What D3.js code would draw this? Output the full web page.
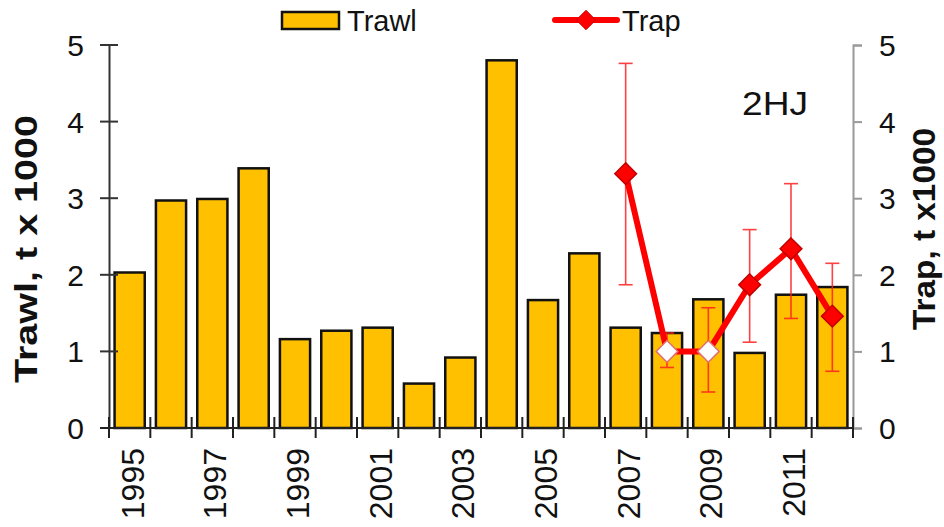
<!DOCTYPE html>
<html>
<head>
<meta charset="utf-8">
<script src="https://cdn.jsdelivr.net/npm/d3@7"></script>
<style>
body { margin: 0; background: white; }
text { font-family: "Liberation Sans", Arial, sans-serif; fill: #111; }
</style>
</head>
<body>
<div id="chart"></div>
<script>
// -- data
var years = [1995, 1996, 1997, 1998, 1999, 2000, 2001, 2002, 2003,
	2004, 2005, 2006, 2007, 2008, 2009, 2010, 2011, 2012];
var trawl = [2.03, 2.97, 2.99, 3.39, 1.16, 1.27, 1.31, 0.58, 0.92,
	4.80, 1.67, 2.28, 1.31, 1.24, 1.68, 0.98, 1.74, 1.84];

var trapYears = [2007, 2008, 2009, 2010, 2011, 2012];
var trap = [3.32, 1.0, 1.0, 1.87, 2.34, 1.46];
var trapHigh = [4.76, 1.24, 1.57, 2.59, 3.19, 2.15];
var trapLow = [1.87, 0.79, 0.47, 1.12, 1.43, 0.74];
var trapHollow = [false, true, true, false, false, false];

var yTicks = [0, 1, 2, 3, 4, 5];
var xLabels = [1995, 1997, 1999, 2001, 2003, 2005, 2007, 2009, 2011];

// -- setup
var W = 944, H = 527;
var plotL = 109, plotR = 853, plotT = 45, plotB = 428;

var svg = d3.select("#chart").append("svg")
	.attr("width", W)
	.attr("height", H);

var x = d3.scaleBand()
	.domain(years)
	.range([plotL, plotR])
	.paddingInner(0.27)
	.paddingOuter(0.135);
var step = x.step();
var cx = d => x(d) + x.bandwidth() / 2;

var y = d3.scaleLinear().domain([0, 5]).range([plotB, plotT]);
var y2 = d3.scaleLinear().domain([0, 5]).range([plotB, plotT]);

// bars
svg.append("g").selectAll("rect")
	.data(years)
	.enter()
	.append("rect")
	.attr("x", d => x(d))
	.attr("width", x.bandwidth())
	.attr("y", (d, i) => y(trawl[i]))
	.attr("height", (d, i) => y(0) - y(trawl[i]))
	.attr("fill", "#FFC000")
	.attr("stroke", "#111")
	.attr("stroke-width", 2.5);

// left axis
var la = svg.append("g").attr("transform", "translate(" + plotL + ",0)");
la.call(d3.axisLeft(y).tickValues(yTicks).tickSize(0).tickFormat(""));
la.select(".domain").attr("stroke", "#333").attr("stroke-width", 2);
la.selectAll(".tk").data(yTicks).enter().append("line")
	.attr("x1", -9).attr("x2", 9)
	.attr("y1", d => y(d)).attr("y2", d => y(d))
	.attr("stroke", "#333").attr("stroke-width", 2);
la.selectAll(".lbl").data(yTicks).enter().append("text")
	.attr("x", -25).attr("y", d => y(d) + 11)
	.attr("text-anchor", "end")
	.style("font-size", "30px")
	.text(d => d);

// right axis
var ra = svg.append("g").attr("transform", "translate(" + plotR + ",0)");
ra.call(d3.axisRight(y2).tickValues(yTicks).tickSize(9).tickFormat(""));
ra.selectAll(".domain, .tick line").attr("stroke", "#999").attr("stroke-width", 2);
ra.selectAll(".lbl").data(yTicks).enter().append("text")
	.attr("x", 26).attr("y", d => y2(d) + 11)
	.style("font-size", "30px")
	.text(d => d);

// x axis
var xa = svg.append("g");
xa.append("line")
	.attr("x1", plotL - 9).attr("x2", plotR)
	.attr("y1", plotB).attr("y2", plotB)
	.attr("stroke", "#222").attr("stroke-width", 2);
xa.selectAll(".tk").data(d3.range(years.length + 1)).enter().append("line")
	.attr("x1", i => plotL + i * step).attr("x2", i => plotL + i * step)
	.attr("y1", plotB - 11).attr("y2", plotB + 10)
	.attr("stroke", "#222").attr("stroke-width", 2);
xa.selectAll(".lbl").data(xLabels).enter().append("text")
	.attr("transform", d => "translate(" + (cx(d) + 14) + "," + (plotB + 20) + ") rotate(-90)")
	.attr("text-anchor", "end")
	.style("font-size", "32px")
	.text(d => d);

// axis titles
svg.append("text")
	.attr("transform", "translate(37,249) rotate(-90)")
	.attr("text-anchor", "middle")
	.attr("textLength", 268)
	.attr("lengthAdjust", "spacingAndGlyphs")
	.style("font-size", "32px")
	.style("font-weight", "bold")
	.text("Trawl, t x 1000");

svg.append("text")
	.attr("transform", "translate(935,229) rotate(-90)")
	.attr("text-anchor", "middle")
	.attr("textLength", 202)
	.attr("lengthAdjust", "spacingAndGlyphs")
	.style("font-size", "32px")
	.style("font-weight", "bold")
	.text("Trap, t x1000");

// trap error bars
var eb = svg.append("g")
	.attr("stroke", "#FF2020")
	.attr("stroke-width", 1.6)
	.attr("opacity", 0.85);
trapYears.forEach(function(yr, i) {
	var px = cx(yr);
	eb.append("line").attr("x1", px).attr("x2", px)
		.attr("y1", y2(trapHigh[i])).attr("y2", y2(trapLow[i]));
	[trapHigh[i], trapLow[i]].forEach(function(v) {
		eb.append("line").attr("x1", px - 7).attr("x2", px + 7)
			.attr("y1", y2(v)).attr("y2", y2(v));
	});
});

// trap line
var line = d3.line()
	.x((d, i) => cx(trapYears[i]))
	.y(d => y2(d));
svg.append("path")
	.datum(trap)
	.attr("d", line)
	.attr("fill", "none")
	.attr("stroke", "#FF0000")
	.attr("stroke-width", 6)
	.attr("stroke-linejoin", "round");

var diamond = d3.symbol().type(d3.symbolDiamond2).size(300);
svg.append("g").selectAll("path")
	.data(trap)
	.enter()
	.append("path")
	.attr("d", diamond)
	.attr("transform", (d, i) => "translate(" + cx(trapYears[i]) + "," + y2(d) + ")")
	.attr("fill", (d, i) => trapHollow[i] ? "white" : "#FF0000")
	.attr("stroke", (d, i) => trapHollow[i] ? "#E07070" : "#C00000")
	.attr("stroke-width", 1.5);

// label
svg.append("text")
	.attr("x", 742).attr("y", 115)
	.attr("textLength", 66)
	.attr("lengthAdjust", "spacingAndGlyphs")
	.style("font-size", "34px")
	.text("2HJ");

// legend
var lg = svg.append("g");
lg.append("rect")
	.attr("x", 282).attr("y", 12).attr("width", 57).attr("height", 17)
	.attr("fill", "#FFC000").attr("stroke", "#111").attr("stroke-width", 2.5);
lg.append("text")
	.attr("x", 347).attr("y", 31)
	.style("font-size", "29px")
	.text("Trawl");
lg.append("line")
	.attr("x1", 555).attr("x2", 617).attr("y1", 20).attr("y2", 20)
	.attr("stroke", "#FF0000").attr("stroke-width", 6).attr("stroke-linecap", "round");
lg.append("path")
	.attr("d", d3.symbol().type(d3.symbolDiamond2).size(240))
	.attr("transform", "translate(586,20)")
	.attr("fill", "#FF0000").attr("stroke", "#C00000").attr("stroke-width", 1);
lg.append("text")
	.attr("x", 622).attr("y", 31)
	.style("font-size", "29px")
	.text("Trap");
</script>
</body>
</html>
